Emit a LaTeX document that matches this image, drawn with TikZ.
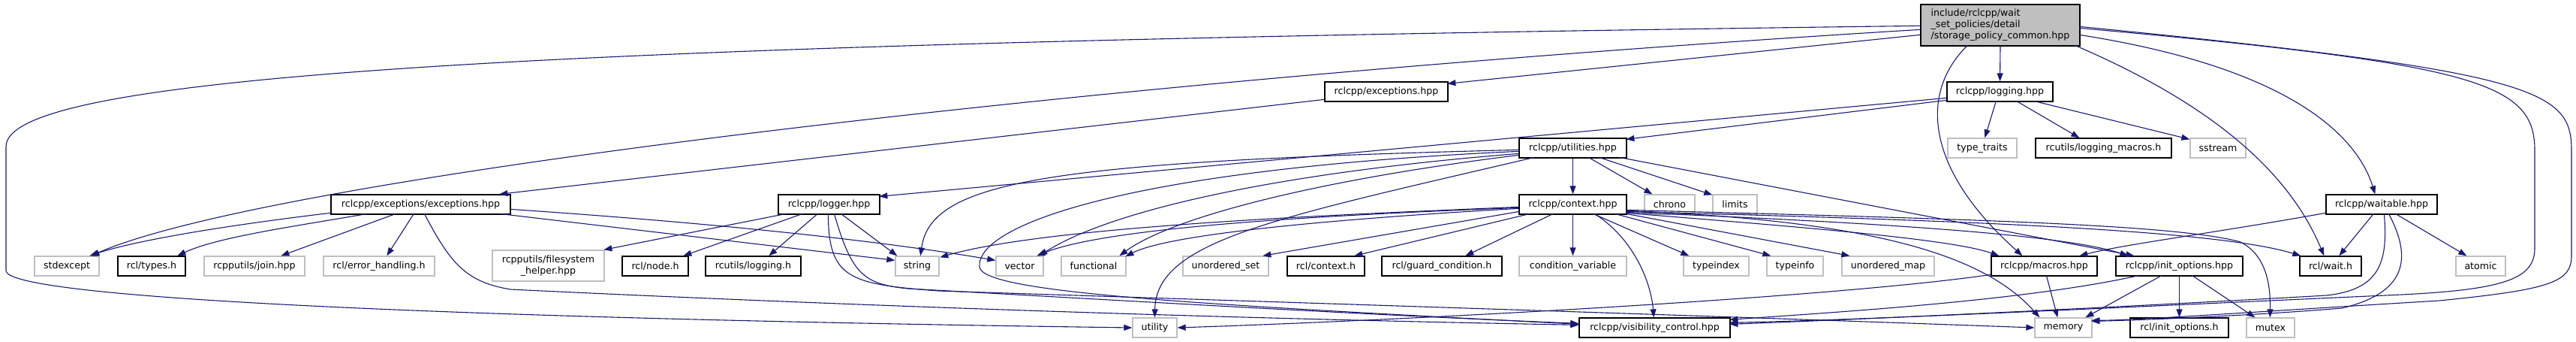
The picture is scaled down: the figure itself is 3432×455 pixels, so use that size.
\documentclass[tikz,border=0pt]{standalone}
\usepackage{fontspec}
\setmainfont{DejaVu Sans}
\usetikzlibrary{arrows.meta,calc}
\definecolor{edgec}{HTML}{191970}
\definecolor{gline}{HTML}{BFBFBF}
\definecolor{mfill}{HTML}{BFBFBF}
\begin{document}
\begin{tikzpicture}[x=1pt,y=-1pt,
  every node/.style={font=\fontsize{12.6}{15}\selectfont, inner sep=0pt, minimum height=26pt, anchor=center},
  bb/.style={draw=black, line width=1.3pt, fill=white},
  gb/.style={draw=gline, line width=1.3pt, fill=white},
  dep/.style={draw=edgec, line width=1.1pt, -{Triangle[length=11pt,width=8pt]}}]
\useasboundingbox (0,0) rectangle (3432,455);
% row 0
\node[draw=black, line width=1.3pt, fill=mfill, minimum width=212pt, minimum height=55pt, align=left] (main) at (2665,33.5) {include/rclcpp/wait\\\_set\_policies/detail\\/storage\_policy\_common.hpp};
% row 1
\node[bb, minimum width=164pt] (exc) at (1847,122) {rclcpp/exceptions.hpp};
\node[bb, minimum width=141pt] (logging) at (2664.5,122) {rclcpp/logging.hpp};
% row 2
\node[bb, minimum width=143pt] (util) at (2095.5,197) {rclcpp/utilities.hpp};
\node[gb, minimum width=92pt] (tt) at (2641,197) {type\_traits};
\node[bb, minimum width=181pt] (lm) at (2802.5,197) {rcutils/logging\_macros.h};
\node[gb, minimum width=74pt] (ss) at (2955,197) {sstream};
% row 3
\node[bb, minimum width=239pt] (ee) at (560.5,272) {rclcpp/exceptions/exceptions.hpp};
\node[bb, minimum width=135pt] (lg) at (1104.5,272) {rclcpp/logger.hpp};
\node[bb, minimum width=143pt] (ctx) at (2095.5,272) {rclcpp/context.hpp};
\node[gb, minimum width=67pt] (chr) at (2224.5,272) {chrono};
\node[gb, minimum width=59pt] (lim) at (2311.5,272) {limits};
\node[bb, minimum width=148pt] (wt) at (3173,272) {rclcpp/waitable.hpp};
% row 4
\node[gb, minimum width=86pt] (se) at (89,354) {stdexcept};
\node[bb, minimum width=90pt] (rt) at (202,354) {rcl/types.h};
\node[gb, minimum width=134pt] (jn) at (339,354) {rcpputils/join.hpp};
\node[gb, minimum width=148pt] (eh) at (505,354) {rcl/error\_handling.h};
\node[gb, minimum width=149pt, minimum height=41pt, align=center] (fs) at (730.5,353.5) {rcpputils/filesystem\\\_helper.hpp};
\node[bb, minimum width=88pt] (nd) at (873,354) {rcl/node.h};
\node[bb, minimum width=127pt] (rl) at (1003.5,354) {rcutils/logging.h};
\node[gb, minimum width=58pt] (str) at (1222,354) {string};
\node[gb, minimum width=63pt] (vec) at (1358.5,354) {vector};
\node[gb, minimum width=86pt] (fn) at (1457,354) {functional};
\node[gb, minimum width=114pt] (us) at (1633,354) {unordered\_set};
\node[bb, minimum width=103pt] (rc) at (1766.5,354) {rcl/context.h};
\node[bb, minimum width=160pt] (gc) at (1921,354) {rcl/guard\_condition.h};
\node[gb, minimum width=143pt] (cv) at (2095.5,354) {condition\_variable};
\node[gb, minimum width=87pt] (ti) at (2286.5,354) {typeindex};
\node[gb, minimum width=75pt] (tf) at (2391.5,354) {typeinfo};
\node[gb, minimum width=123pt] (um) at (2515.5,354) {unordered\_map};
\node[bb, minimum width=141pt] (mac) at (2723.5,354) {rclcpp/macros.hpp};
\node[bb, minimum width=169pt] (io) at (2903.5,354) {rclcpp/init\_options.hpp};
\node[bb, minimum width=82pt] (rw) at (3105,354) {rcl/wait.h};
\node[gb, minimum width=66pt] (at) at (3305,354) {atomic};
% row 5
\node[gb, minimum width=59pt] (ut) at (1538.5,436) {utility};
\node[bb, minimum width=201pt] (vis) at (2204.5,436) {rclcpp/visibility\_control.hpp};
\node[gb, minimum width=76pt] (mem) at (2749,436) {memory};
\node[bb, minimum width=131pt] (rio) at (2903.5,436) {rcl/init\_options.h};
\node[gb, minimum width=64pt] (mx) at (3025,436) {mutex};

% ---- edges from main
\draw[dep] ($(main.north west)+(0,29)$) .. controls (700,58) and (8,100) .. (8,195) -- (8,360) .. controls (8,400) and (700,425) .. (ut.west);
\draw[dep] ($(main.north west)+(0,34)$) .. controls (1400,110) and (350,240) .. ($(se.north west)+(76,0)$);
\draw[dep] ($(main.north west)+(0,41)$) -- ($(exc.north west)+(164,3)$);
\draw[dep] (main.south) -- (logging.north);
\draw[dep] ($(main.north west)+(63,55)$) .. controls (2560,120) and (2560,220) .. ($(mac.north west)+(42,0)$);
\draw[dep] ($(main.north west)+(206,55)$) .. controls (2950,140) and (3050,230) .. ($(rw.north west)+(33,0)$);
\draw[dep] ($(main.north west)+(212,41)$) .. controls (3050,90) and (3140,180) .. ($(wt.north west)+(66,0)$);
\draw[dep] ($(main.north west)+(212,32)$) .. controls (3300,85) and (3377,110) .. (3377,200) -- (3377,330) .. controls (3377,370) and (3340,385) .. (3200,392) .. controls (2800,410) and (2500,425) .. ($(vis.north west)+(201,7)$);
\draw[dep] ($(main.north west)+(212,30)$) .. controls (3380,95) and (3426,120) .. (3426,200) -- (3426,340) .. controls (3426,375) and (3400,385) .. (3250,400) .. controls (3000,415) and (2850,426) .. ($(mem.north west)+(76,4)$);
% ---- exceptions.hpp
\draw[dep] ($(exc.north west)+(0,24)$) -- ($(ee.north west)+(225,0)$);
% ---- logging.hpp
\draw[dep] ($(logging.north west)+(66,26)$) -- ($(tt.north west)+(50,0)$);
\draw[dep] ($(logging.north west)+(93,26)$) -- ($(lm.north west)+(59,0)$);
\draw[dep] ($(logging.north west)+(116,26)$) -- ($(ss.north west)+(0,2)$);
\draw[dep] ($(logging.north west)+(0,22)$) -- ($(lg.north west)+(135,3)$);
\draw[dep] ($(logging.north west)+(0,25)$) -- ($(util.north west)+(143,2)$);
% ---- utilities.hpp
\draw[dep] (util.south) -- (ctx.north);
\draw[dep] ($(util.north west)+(93,26)$) -- ($(chr.north west)+(11,0)$);
\draw[dep] ($(util.north west)+(107,26)$) -- ($(lim.north west)+(0,1)$);
\draw[dep] ($(util.north west)+(134,26)$) -- ($(io.north west)+(25,0)$);
\draw[dep] ($(util.north west)+(0,16)$) .. controls (1400,215) and (1240,240) .. ($(str.north west)+(34,0)$);
\draw[dep] ($(util.north west)+(0,21)$) .. controls (1700,230) and (1480,280) .. ($(vec.north west)+(58,0)$);
\draw[dep] ($(util.north west)+(0,23)$) .. controls (1750,240) and (1560,290) .. ($(fn.north west)+(78,0)$);
\draw[dep] ($(util.north west)+(21,26)$) .. controls (1700,290) and (1540,320) .. (ut.north);
\draw[dep] ($(util.north west)+(0,18)$) .. controls (1500,225) and (1300,300) .. (1305,355) .. controls (1308,390) and (1600,405) .. ($(vis.north west)+(0,9)$);
% ---- exceptions/exceptions.hpp
\draw[dep] ($(ee.north west)+(0,25)$) .. controls (300,300) and (180,320) .. ($(se.north west)+(74,0)$);
\draw[dep] ($(ee.north west)+(49,26)$) .. controls (400,300) and (290,315) .. ($(rt.north west)+(80,0)$);
\draw[dep] ($(ee.north west)+(87,26)$) -- ($(jn.north west)+(103,0)$);
\draw[dep] ($(ee.north west)+(111,26)$) -- ($(eh.north west)+(85,0)$);
\draw[dep] ($(ee.north west)+(225,26)$) -- ($(str.north west)+(0,6)$);
\draw[dep] ($(ee.north west)+(239,20)$) .. controls (1000,300) and (1200,325) .. ($(vec.north west)+(0,6)$);
\draw[dep] ($(ee.north west)+(125,26)$) .. controls (600,350) and (620,375) .. (680,385) .. controls (1200,410) and (1700,425) .. ($(vis.north west)+(0,10)$);
% ---- logger.hpp
\draw[dep] ($(lg.north west)+(11,26)$) -- ($(fs.north west)+(149,0)$);
\draw[dep] ($(lg.north west)+(33,26)$) -- ($(nd.north west)+(82,0)$);
\draw[dep] ($(lg.north west)+(53,26)$) -- ($(rl.north west)+(85,0)$);
\draw[dep] ($(lg.north west)+(84,26)$) -- ($(str.north west)+(3,0)$);
\draw[dep] ($(lg.north west)+(67,26)$) .. controls (1104,370) and (1130,378) .. (1250,387) .. controls (1800,405) and (2300,421) .. (mem.west);
\draw[dep] ($(lg.north west)+(75,26)$) .. controls (1135,365) and (1150,378) .. (1210,384) .. controls (1500,400) and (1800,418) .. ($(vis.north west)+(0,8)$);
% ---- context.hpp
\draw[dep] ($(ctx.north west)+(0,17)$) .. controls (1800,285) and (1400,300) .. ($(str.north west)+(60,2)$);
\draw[dep] ($(ctx.north west)+(0,18)$) .. controls (1800,285) and (1480,300) .. ($(vec.north west)+(55,0)$);
\draw[dep] ($(ctx.north west)+(0,19)$) .. controls (1800,290) and (1560,310) .. ($(fn.north west)+(86,1)$);
\draw[dep] ($(ctx.north west)+(1,23)$) -- ($(us.north west)+(107,0)$);
\draw[dep] ($(ctx.north west)+(15,26)$) -- ($(rc.north west)+(90,0)$);
\draw[dep] ($(ctx.north west)+(46,26)$) -- ($(gc.north west)+(112,0)$);
\draw[dep] (ctx.south) -- (cv.north);
\draw[dep] ($(ctx.north west)+(99,26)$) -- ($(ti.north west)+(8,0)$);
\draw[dep] ($(ctx.north west)+(128,26)$) -- ($(tf.north west)+(6,0)$);
\draw[dep] ($(ctx.north west)+(143,26)$) -- ($(um.north west)+(11,0)$);
\draw[dep] ($(ctx.north west)+(143,25)$) .. controls (2400,302) and (2600,318) .. ($(mac.north west)+(11,0)$);
\draw[dep] ($(ctx.north west)+(143,24)$) .. controls (2500,296) and (2750,312) .. ($(io.north west)+(17,0)$);
\draw[dep] ($(ctx.north west)+(143,23)$) .. controls (2600,293) and (2950,305) .. ($(rw.north west)+(2,0)$);
\draw[dep] ($(ctx.north west)+(143,22)$) .. controls (2480,293) and (2640,335) .. ($(mem.north west)+(7,0)$);
\draw[dep] ($(ctx.north west)+(143,21)$) .. controls (2600,291) and (2900,298) .. (2985,322) .. controls (3020,340) and (3025,380) .. ($(mx.north west)+(32,0)$);
\draw[dep] ($(ctx.north west)+(101,26)$) .. controls (2180,320) and (2200,380) .. ($(vis.north west)+(100,0)$);
% ---- macros.hpp
\draw[dep] ($(mac.north west)+(74,26)$) -- ($(mem.north west)+(31,0)$);
\draw[dep] ($(mac.north west)+(0,25)$) .. controls (2450,395) and (1900,425) .. (ut.east);
% ---- init_options.hpp
\draw[dep] ($(io.north west)+(32,26)$) .. controls (2700,400) and (2450,415) .. ($(vis.north west)+(201,3)$);
\draw[dep] ($(io.north west)+(62,26)$) -- ($(mem.north west)+(68,0)$);
\draw[dep] (io.south) -- (rio.north);
\draw[dep] ($(io.north west)+(102,26)$) -- ($(mx.north west)+(12,0)$);
% ---- waitable.hpp
\draw[dep] ($(wt.north west)+(0,25)$) .. controls (2950,310) and (2830,325) .. ($(mac.north west)+(118,0)$);
\draw[dep] ($(wt.north west)+(64,26)$) -- ($(rw.north west)+(53,0)$);
\draw[dep] ($(wt.north west)+(93,26)$) -- ($(at.north west)+(15,0)$);
\draw[dep] ($(wt.north west)+(78,26)$) .. controls (3182,350) and (3170,385) .. (3100,393) .. controls (2800,410) and (2500,424) .. ($(vis.north west)+(201,9)$);
\draw[dep] ($(wt.north west)+(84,26)$) .. controls (3215,345) and (3205,390) .. (3120,410) .. controls (3000,420) and (2850,426) .. ($(mem.north west)+(76,5)$);
\end{tikzpicture}
\end{document}
